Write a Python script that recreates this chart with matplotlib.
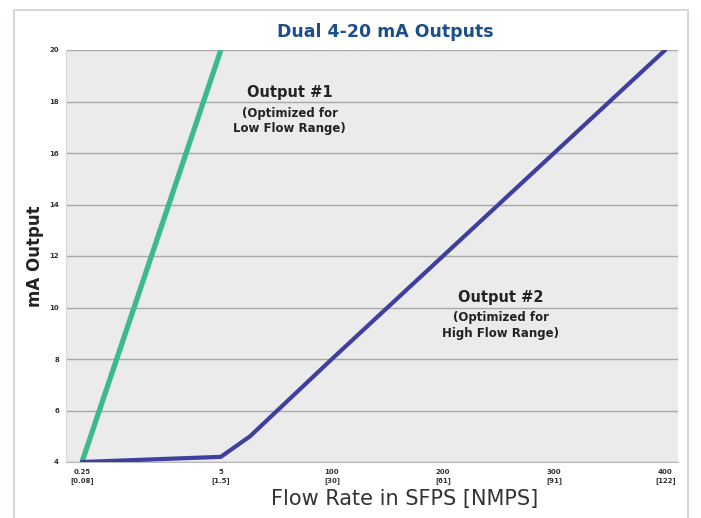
import matplotlib.pyplot as plt
import numpy as np
from matplotlib.patches import Rectangle

# data
tick_flow = [0.25, 5, 100, 200, 300, 400]
tick_labels = ['0.25\n[0.08]', '5\n[1.5]', '100\n[30]', '200\n[61]', '300\n[91]', '400\n[122]']
y_ticks = [4, 6, 8, 10, 12, 14, 16, 18, 20]

out1_flow = [0.25, 5]
out1_ma = [4, 20]

out2_flow = [0.25, 5, 30, 100, 200, 300, 400]
out2_ma = [4, 4.2, 5, 8, 12, 16, 20]

# piecewise axis: each labelled flow gets its own slot
tick_pos = [0, 1.25, 2.25, 3.25, 4.25, 5.25]


def _pw(v, xs, ys):
    v = np.asarray(v, dtype=float)
    out = np.interp(v, xs, ys)
    lo = v < xs[0]
    hi = v > xs[-1]
    s0 = (ys[1] - ys[0]) / (xs[1] - xs[0])
    s1 = (ys[-1] - ys[-2]) / (xs[-1] - xs[-2])
    out = np.where(lo, ys[0] + (v - xs[0]) * s0, out)
    out = np.where(hi, ys[-1] + (v - xs[-1]) * s1, out)
    return out


def fwd(x):
    return _pw(x, tick_flow, tick_pos)


def inv(p):
    return _pw(p, tick_pos, tick_flow)


fig = plt.figure(figsize=(7.01, 5.18), dpi=100, facecolor='white')
fig.add_artist(Rectangle((14/701, -0.1), (688-14)/701, 1.1 - 10/518,
                         transform=fig.transFigure, fill=False,
                         edgecolor='#c9d1d9', linewidth=1.2))

ax = fig.add_axes([66/701, 56/518, 612/701, 412/518])
ax.set_facecolor('#ebebeb')
ax.set_xscale('function', functions=(fwd, inv))

ax.plot(out1_flow, out1_ma, color='#3dba8c', lw=3.8, solid_capstyle='butt', zorder=3)
ax.plot(out2_flow, out2_ma, color='#3f3fa0', lw=3.0, solid_capstyle='round', zorder=3)

ax.set_ylim(4, 20)
ax.set_xlim(float(inv(-0.144)), float(inv(5.365)))
ax.set_yticks(y_ticks)
ax.set_yticklabels([str(v) for v in y_ticks], fontsize=5, fontweight='bold', color='#333333')
ax.set_xticks(tick_flow)
ax.set_xticklabels(tick_labels, fontsize=5, fontweight='bold', color='#333333', linespacing=1.5)
ax.tick_params(length=0, pad=5)
ax.minorticks_off()

ax.grid(axis='y', color='#a8a8a8', lw=1.0)
ax.set_axisbelow(True)
for s in ax.spines.values():
    s.set_visible(False)
ax.spines['bottom'].set_visible(True)
ax.spines['bottom'].set_color('#b8b8b8')
ax.spines['left'].set_visible(True)
ax.spines['left'].set_color('#d8d8d8')

ax.set_ylabel('mA Output', fontsize=12, fontweight='bold', color='#222222', labelpad=4)
ax.set_xlabel('Flow Rate in SFPS [NMPS]', fontsize=15, color='#333333', labelpad=3,
              x=(405 - 66) / 612)

fig.text(385/701, 1 - 32/518, 'Dual 4-20 mA Outputs', ha='center', va='center',
         fontsize=12.5, fontweight='bold', color='#1b4f8c')

ax.text(float(inv(1.87)), 18.35, 'Output #1', ha='center', va='center', fontsize=10.5,
        fontweight='bold', color='#222222')
ax.text(float(inv(1.87)), 17.25, '(Optimized for\nLow Flow Range)', ha='center', va='center',
        fontsize=8.5, fontweight='bold', color='#222222', linespacing=1.25)

ax.text(float(inv(3.77)), 10.4, 'Output #2', ha='center', va='center', fontsize=10.5,
        fontweight='bold', color='#222222')
ax.text(float(inv(3.77)), 9.3, '(Optimized for\nHigh Flow Range)', ha='center', va='center',
        fontsize=8.5, fontweight='bold', color='#222222', linespacing=1.25)

fig.savefig('out.png', dpi=100)
